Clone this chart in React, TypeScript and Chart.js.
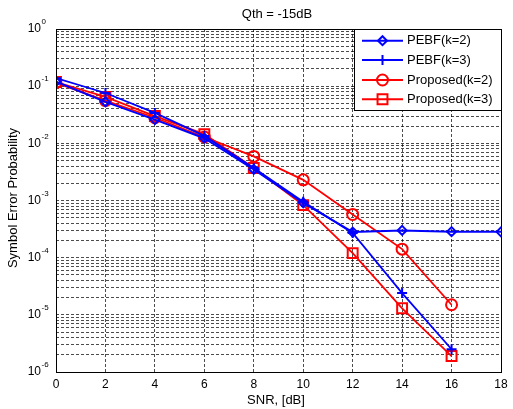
import React, { useEffect, useRef } from "react";
import { Chart, registerables } from "chart.js";

Chart.register(...registerables);

const snrDb = [0, 2, 4, 6, 8, 10, 12, 14, 16, 18];
const pebfK2 = [0.12, 0.053, 0.026, 0.0123, 0.0035, 0.00091, 0.00028, 0.0003, 0.000285, 0.000283];
const pebfK3 = [0.138, 0.076, 0.034, 0.0135, 0.0037, 0.00095, 0.00027, 0.000024, 0.0000025];
const proposedK2 = [0.115, 0.056, 0.028, 0.0129, 0.0059, 0.0023, 0.00057, 0.000141, 0.000015];
const proposedK3 = [0.118, 0.065, 0.03, 0.0145, 0.0037, 0.00083, 0.00012, 0.000013, 0.0000019];

const xTicks = [0, 2, 4, 6, 8, 10, 12, 14, 16, 18];
const yDecades = [-6, -5, -4, -3, -2, -1, 0];

const titleText = "Qth = -15dB";
const xTitle = "SNR, [dB]";
const yTitle = "Symbol Error Probability";
const legendLabels = ["PEBF(k=2)", "PEBF(k=3)", "Proposed(k=2)", "Proposed(k=3)"];

const FONT = "'Liberation Sans', Arial, sans-serif";
const BLUE = "#0000ff";
const RED = "#ff0000";

function toPoints(vals: number[]) {
  return vals.map((v, i) => ({ x: snrDb[i], y: v }));
}

function drawMarker(ctx: CanvasRenderingContext2D, style: string, x: number, y: number, r: number) {
  ctx.beginPath();
  if (style === "diamond") {
    ctx.moveTo(x - r, y);
    ctx.lineTo(x, y - r);
    ctx.lineTo(x + r, y);
    ctx.lineTo(x, y + r);
    ctx.closePath();
  } else if (style === "plus") {
    ctx.moveTo(x - r, y);
    ctx.lineTo(x + r, y);
    ctx.moveTo(x, y - r);
    ctx.lineTo(x, y + r);
  } else if (style === "circle") {
    ctx.arc(x, y, r, 0, Math.PI * 2);
  } else {
    const s = r * Math.SQRT1_2;
    ctx.rect(x - s, y - s, 2 * s, 2 * s);
  }
  ctx.stroke();
}

const decorPlugin = {
  id: "matlabDecor",
  afterDraw(chart: any) {
    const { ctx, chartArea: ca, scales } = chart;
    ctx.save();
    ctx.setLineDash([]);
    // axes box
    ctx.strokeStyle = "#000";
    ctx.lineWidth = 1;
    ctx.strokeRect(ca.left + 0.5, ca.top + 0.5, ca.right - ca.left, ca.bottom - ca.top);

    // y tick labels with superscripts
    ctx.fillStyle = "#000";
    for (const e of yDecades) {
      const y = scales.y.getPixelForValue(Math.pow(10, e));
      ctx.font = `12px ${FONT}`;
      ctx.textAlign = "right";
      ctx.textBaseline = "middle";
      ctx.fillText("10", 41, y);
      ctx.font = `8px ${FONT}`;
      ctx.textAlign = "left";
      ctx.fillText(String(e), 41.5, y - 7);
    }

    // title
    ctx.font = `13px ${FONT}`;
    ctx.textAlign = "center";
    ctx.textBaseline = "middle";
    ctx.fillText(titleText, 277, 14);

    // x title
    ctx.fillText(xTitle, 276, 400);

    // y title
    ctx.save();
    ctx.translate(13, 198);
    ctx.rotate(-Math.PI / 2);
    ctx.fillText(yTitle, 0, 0);
    ctx.restore();

    // legend
    const lx = 354, ly = 29, lw = 147, lh = 81;
    ctx.fillStyle = "#fff";
    ctx.fillRect(lx, ly, lw, lh);
    ctx.strokeStyle = "#000";
    ctx.lineWidth = 1;
    ctx.strokeRect(lx + 0.5, ly + 0.5, lw, lh);
    const ds = chart.data.datasets;
    const rows = [40.7, 60, 80, 99.3];
    const styles = ["diamond", "plus", "circle", "square"];
    const radii = [4.5, 5, 5.5, 7];
    for (let i = 0; i < 4; i++) {
      const y = rows[i];
      ctx.strokeStyle = ds[i].borderColor;
      ctx.lineWidth = 2;
      ctx.beginPath();
      ctx.moveTo(362, y);
      ctx.lineTo(403, y);
      ctx.stroke();
      drawMarker(ctx, styles[i], 382.5, y, radii[i]);
      ctx.fillStyle = "#000";
      ctx.font = `13px ${FONT}`;
      ctx.textAlign = "left";
      ctx.textBaseline = "middle";
      ctx.fillText(legendLabels[i], 407, y);
    }
    ctx.restore();
  },
};

export default function App() {
  const ref = useRef<HTMLCanvasElement | null>(null);

  useEffect(() => {
    if (!ref.current) return;
    const gridColor = "rgba(0,0,0,0.7)";
    const chart = new Chart(ref.current, {
      type: "line",
      data: {
        datasets: [
          {
            label: legendLabels[0],
            data: toPoints(pebfK2),
            borderColor: BLUE,
            backgroundColor: "rgba(0,0,0,0)",
            borderWidth: 2,
            pointStyle: "rectRot",
            pointRadius: 4.5,
            pointBorderWidth: 2,
            pointBorderColor: BLUE,
            pointBackgroundColor: "rgba(0,0,0,0)",
          },
          {
            label: legendLabels[1],
            data: toPoints(pebfK3),
            borderColor: BLUE,
            backgroundColor: "rgba(0,0,0,0)",
            borderWidth: 1.8,
            pointStyle: "cross",
            pointRadius: 5,
            pointBorderWidth: 2,
            pointBorderColor: BLUE,
            pointBackgroundColor: "rgba(0,0,0,0)",
          },
          {
            label: legendLabels[2],
            data: toPoints(proposedK2),
            borderColor: RED,
            backgroundColor: "rgba(0,0,0,0)",
            borderWidth: 1.8,
            pointStyle: "circle",
            pointRadius: 5.5,
            pointBorderWidth: 2,
            pointBorderColor: RED,
            pointBackgroundColor: "rgba(0,0,0,0)",
          },
          {
            label: legendLabels[3],
            data: toPoints(proposedK3),
            borderColor: RED,
            backgroundColor: "rgba(0,0,0,0)",
            borderWidth: 1.8,
            pointStyle: "rect",
            pointRadius: 7,
            pointBorderWidth: 2,
            pointBorderColor: RED,
            pointBackgroundColor: "rgba(0,0,0,0)",
          },
        ],
      },
      options: {
        responsive: false,
        animation: false,
        parsing: true,
        layout: { padding: { top: 29, right: 12, left: 0, bottom: 0 } },
        plugins: {
          legend: { display: false },
          title: { display: false },
          tooltip: { enabled: false },
        },
        elements: { line: { tension: 0 } },
        scales: {
          x: {
            type: "linear",
            min: 0,
            max: 18,
            afterBuildTicks: (scale: any) => {
              scale.ticks = xTicks.map((v) => ({ value: v }));
            },
            afterFit: (scale: any) => {
              scale.height = 37;
            },
            ticks: {
              color: "#000",
              font: { family: FONT, size: 12 },
              padding: 5,
              maxRotation: 0,
              autoSkip: false,
            },
            grid: {
              color: gridColor,
              lineWidth: 1,
              drawTicks: false,
            },
            border: { display: false, dash: [3, 2] },
          },
          y: {
            type: "logarithmic",
            min: 1e-6,
            max: 1,
            afterBuildTicks: (scale: any) => {
              const t: { value: number }[] = [];
              for (let e = -6; e < 0; e++) {
                for (let m = 1; m <= 9; m++) t.push({ value: m * Math.pow(10, e) });
              }
              t.push({ value: 1 });
              scale.ticks = t;
            },
            afterFit: (scale: any) => {
              scale.width = 56;
            },
            ticks: { display: false },
            grid: {
              color: gridColor,
              lineWidth: 1,
              drawTicks: false,
            },
            border: { display: false, dash: [3, 2] },
          },
        },
      },
      plugins: [decorPlugin],
    } as any);
    return () => chart.destroy();
  }, []);

  return (
    <div style={{ position: "fixed", left: 0, top: 0, width: 513, height: 409, background: "#fff" }}>
      <canvas ref={ref} width={513} height={409} style={{ display: "block" }} />
    </div>
  );
}
